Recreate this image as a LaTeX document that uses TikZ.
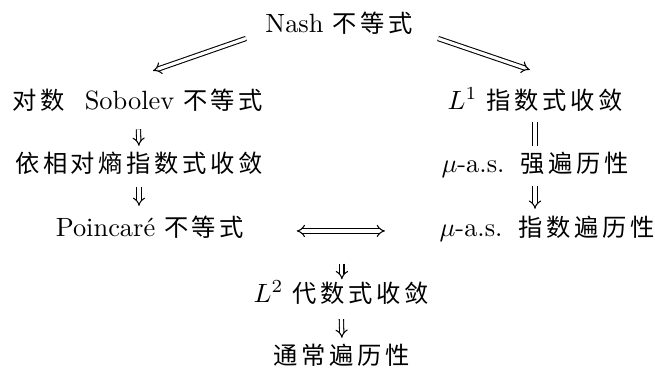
\documentclass[tikz,border=0pt]{standalone}
\usepackage{fontspec}
\newfontfamily\cjk[Scale=0.92, LetterSpace=15]{Noto Sans CJK SC}
\usetikzlibrary{arrows.meta}
\begin{document}
\begin{tikzpicture}[x=0.3788pt, y=-0.3788pt, line join=round,
	every node/.style={inner sep=0pt, text height=8.5pt, text depth=1.5pt},
	imp/.style={double, double distance=1.2pt, -Implies},
	eqv/.style={double, double distance=1.2pt, Implies-Implies}]
	\useasboundingbox (0,0) rectangle (655,371);
	% rows
	\node (nash) at (339,23) {Nash {\cjk 不等式}};
	\node (logsob) at (138,100) {{\cjk 对数}\hspace{7.5pt}Sobolev {\cjk 不等式}};
	\node (relent) at (139,163) {\cjk 依相对熵指数式收敛};
	\node (poinc) at (150,227) {Poincar\'e {\cjk 不等式}};
	\node (lone) at (535,100) {$L^1$ {\cjk 指数式收敛}};
	\node (mustrong) at (535,163) {$\mu$-a.s.\hspace{6pt}{\cjk 强遍历性}};
	\node (muexp) at (547,227) {$\mu$-a.s.\hspace{6pt}{\cjk 指数遍历性}};
	\node (ltwo) at (341,293) {$L^2$ {\cjk 代数式收敛}};
	\node (erg) at (342,355) {\cjk 通常遍历性};
	% arrows
	\draw[imp, shorten <=2pt, shorten >=17.9pt] ([xshift=-5.3pt]nash.south west) -- ([xshift=-11.2pt]logsob.north);
	\draw[imp, shorten <=2.1pt, shorten >=19.4pt] ([xshift=7.5pt]nash.south east) -- ([xshift=16.4pt]lone.north);
	\draw[imp, shorten <=5.9pt, shorten >=1.3pt] (logsob.south) -- (relent.north);
	\draw[imp, shorten <=4pt, shorten >=2.8pt] (relent.south) -- (relent.south |- poinc.north);
	\draw[double, double distance=1.2pt, shorten <=3.3pt, shorten >=1.1pt] (lone.south) -- (mustrong.north);
	\draw[imp, shorten <=3.6pt, shorten >=1.7pt] (mustrong.south) -- (mustrong.south |- muexp.north);
	\draw[eqv, shorten <=19.7pt, shorten >=20.5pt] ([yshift=-1.5pt]poinc.east) -- coordinate (mid) ([yshift=-1.5pt]muexp.west);
	\draw[imp, shorten <=12.4pt] (mid) -- (mid |- ltwo.north);
	\draw[imp, shorten <=4.7pt, shorten >=1.3pt] (ltwo.south) -- (erg.north);
\end{tikzpicture}
\end{document}
